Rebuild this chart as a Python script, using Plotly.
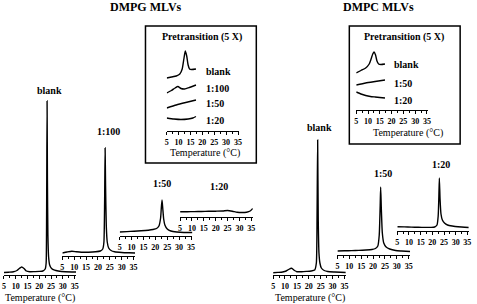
import plotly.graph_objects as go

# ---------------- data (temperature in °C, excess heat capacity in arbitrary units) ----------------
tick_vals = [5, 10, 15, 20, 25, 30, 35]
tick_text = ["5", "10", "15", "20", "25", "30", "35"]

# DMPG MLVs main transition
dmpg_blank_T = [5, 7, 9, 10.5, 11.5, 12.5, 13.5, 14.5, 16, 18, 20, 21.5, 22.5, 22.9, 23.1, 23.3, 23.45, 23.65, 23.95, 24.4, 25.2, 26.5, 28, 31, 35.6]
dmpg_blank_cp = [2.5, 2.8, 3.2, 4.5, 6.5, 8, 6.5, 4, 3.3, 3.4, 3.6, 4, 6, 12, 60, 174, 95, 40, 18, 10, 6.5, 4.8, 4, 3.2, 3]
dmpg_100_T = [5, 7, 9, 11, 13, 16, 19, 21, 22, 22.5, 22.8, 23.0, 23.2, 23.5, 23.9, 24.5, 25.5, 27, 30, 33, 35.6]
dmpg_100_cp = [3, 4, 4.8, 4.2, 3.8, 3.8, 4.2, 5, 7, 14, 55, 108, 70, 30, 14, 8, 5.5, 4.2, 3.5, 3.2, 3]
dmpg_50_T = [5, 8, 11, 14, 17, 19, 20.5, 21.5, 22.2, 22.5, 22.8, 23.1, 23.5, 24, 25, 26.5, 29, 32, 35.6]
dmpg_50_cp = [4, 4.4, 4.8, 5.2, 5.8, 6.5, 7.5, 10, 18, 28, 36, 28, 17, 11, 7, 5, 4, 3.5, 3.5]
dmpg_20_T = [5, 8, 11, 14, 17, 20, 23, 25, 27, 29, 31, 33, 34.5, 35.6]
dmpg_20_cp = [5.2, 5.3, 5.4, 5.5, 5.7, 5.8, 6, 6.5, 5.8, 4.8, 4.5, 4.8, 6, 8.5]

# DMPG pretransition (5 X)
dmpg_pre_blank_T = [5, 7, 9, 10.5, 11.5, 12.2, 12.8, 13.4, 14, 14.6, 15.5, 17.3]
dmpg_pre_blank_cp = [53, 54, 55, 57, 62, 72, 80, 75, 66, 62, 61.5, 62]
dmpg_pre_100_T = [5, 7, 8.5, 9.7, 11, 12.5, 14.5, 17.3]
dmpg_pre_100_cp = [38, 40.5, 43, 44.5, 42.5, 42, 43.5, 46]
dmpg_pre_50_T = [5, 9, 13, 17.3]
dmpg_pre_50_cp = [23, 26, 28.5, 31]
dmpg_pre_20_T = [5, 8, 11, 14, 16, 17.3]
dmpg_pre_20_cp = [13, 12, 11.5, 12, 13, 14.5]

# DMPC MLVs main transition
dmpc_blank_T = [5, 7, 9, 10.5, 11.5, 12.8, 14, 15, 17, 19, 21, 22.5, 23.2, 23.5, 23.75, 24.0, 24.3, 24.7, 25.3, 26.5, 28, 31, 35.6]
dmpc_blank_cp = [2.3, 2.6, 3, 4, 5.5, 6.7, 4.5, 3.3, 3.3, 3.6, 4, 5, 12, 60, 135, 55, 22, 12, 7, 4.5, 3.5, 3, 2.5]
dmpc_50_T = [5, 8, 11, 14, 17, 19.5, 21, 22, 22.6, 23.0, 23.2, 23.5, 23.9, 24.5, 25.5, 27, 29.5, 32, 35.6]
dmpc_50_cp = [4, 4.2, 4.4, 4.6, 5, 5.5, 6.5, 9, 20, 50, 68, 45, 22, 12, 8, 6, 4.5, 4, 3.5]
dmpc_20_T = [5, 8, 11, 14, 17, 19.5, 21, 22, 22.5, 22.8, 23.0, 23.3, 23.7, 24.3, 25.2, 26.5, 28.5, 31, 35.6]
dmpc_20_cp = [4.3, 4.1, 3.9, 3.7, 3.6, 3.6, 4, 6, 15, 35, 53, 32, 17, 11, 8, 6, 5, 4.2, 3.5]

# DMPC pretransition (5 X)
dmpc_pre_blank_T = [5, 7, 9, 10.5, 11.3, 12, 12.6, 13.2, 13.8, 14.5, 15.5, 17.2]
dmpc_pre_blank_cp = [37, 39.5, 42, 46, 51, 56, 58, 55, 49, 46, 45.5, 46]
dmpc_pre_50_T = [5, 9, 13, 17.2]
dmpc_pre_50_cp = [25, 27, 28.5, 30]
dmpc_pre_20_T = [5, 7, 9, 11, 13, 15, 17.2]
dmpc_pre_20_cp = [18, 16, 14.5, 13.5, 13, 12.5, 12]

# ---------------- layout helpers ----------------
W, H = 477, 304
FONT = "Liberation Serif"


def px(x):
    return x / W


def py(y):
    return 1 - y / H


# each panel: curves, x position of the 5 °C tick, axis line y, plot height, x max, px per °C
panels = [
    dict(curves=[(dmpg_blank_T, dmpg_blank_cp)], x5=2, ay=275, h=185, xmax=35.6, s=2.38),
    dict(curves=[(dmpg_100_T, dmpg_100_cp)], x5=61, ay=256, h=120, xmax=35.6, s=2.4),
    dict(curves=[(dmpg_50_T, dmpg_50_cp)], x5=119, ay=236, h=50, xmax=35.6, s=2.4),
    dict(curves=[(dmpg_20_T, dmpg_20_cp)], x5=180, ay=217, h=20, xmax=35.6, s=2.4),
    dict(curves=[(dmpg_pre_blank_T, dmpg_pre_blank_cp), (dmpg_pre_100_T, dmpg_pre_100_cp),
                 (dmpg_pre_50_T, dmpg_pre_50_cp), (dmpg_pre_20_T, dmpg_pre_20_cp)],
         x5=166.5, ay=131, h=85, xmax=35.4, s=2.4),
    dict(curves=[(dmpc_blank_T, dmpc_blank_cp)], x5=274, ay=275, h=145, xmax=35.6, s=2.4),
    dict(curves=[(dmpc_50_T, dmpc_50_cp)], x5=339, ay=255, h=80, xmax=35.6, s=2.4),
    dict(curves=[(dmpc_20_T, dmpc_20_cp)], x5=399.5, ay=231, h=65, xmax=35.6, s=2.36),
    dict(curves=[(dmpc_pre_blank_T, dmpc_pre_blank_cp), (dmpc_pre_50_T, dmpc_pre_50_cp),
                 (dmpc_pre_20_T, dmpc_pre_20_cp)],
         x5=358, ay=110, h=70, xmax=35.4, s=2.38),
]

fig = go.Figure()
layout = {}
for i, p in enumerate(panels, start=1):
    for T, cp in p["curves"]:
        fig.add_trace(go.Scatter(
            x=T, y=cp, xaxis=f"x{i}", yaxis=f"y{i}", mode="lines",
            line=dict(color="black", width=1.4, shape="spline", smoothing=0.5),
            cliponaxis=False, showlegend=False, hoverinfo="skip"))
    xname = "xaxis" if i == 1 else f"xaxis{i}"
    yname = "yaxis" if i == 1 else f"yaxis{i}"
    x0 = p["x5"]
    x1 = x0 + p["s"] * (p["xmax"] - 5)
    layout[xname] = dict(
        domain=[px(x0), px(x1)], range=[5, p["xmax"]], anchor=f"y{i}",
        showline=True, linecolor="black", linewidth=1.2,
        ticks="outside", ticklen=3, tickwidth=1, tickcolor="black",
        tickvals=tick_vals, ticktext=tick_text,
        tickfont=dict(family=FONT, size=8, color="black", weight="bold"),
        minor=dict(ticks="outside", ticklen=1.5, tickwidth=1, tickcolor="black",
                   tickvals=[7.5, 12.5, 17.5, 22.5, 27.5, 32.5]),
        showgrid=False, zeroline=False, fixedrange=True)
    layout[yname] = dict(
        domain=[py(p["ay"]), py(p["ay"] - p["h"])], range=[0, p["h"]],
        anchor=f"x{i}", visible=False, fixedrange=True)


def text(s, x, y, size=10, bold=True, xanchor="center"):
    return dict(text=s, x=px(x), y=py(y), xref="paper", yref="paper",
                xanchor=xanchor, yanchor="middle", showarrow=False,
                font=dict(family=FONT, size=size, color="black",
                          weight="bold" if bold else "normal"))


annotations = [
    text("DMPG MLVs", 146, 7, size=12),
    text("DMPC MLVs", 380, 7, size=12),
    # DMPG main labels
    text("blank", 48, 90),
    text("1:100", 108, 131),
    text("1:50", 162, 183),
    text("1:20", 219, 186),
    text("Temperature (°C)", 38, 298, bold=False),
    # DMPG inset
    text("Pretransition (5 X)", 202, 37, size=10),
    text("blank", 204, 71, xanchor="left"),
    text("1:100", 204, 88, xanchor="left"),
    text("1:50", 204, 104, xanchor="left"),
    text("1:20", 204, 120, xanchor="left"),
    text("Temperature (°C)", 205, 153, bold=False),
    # DMPC main labels
    text("blank", 321, 127),
    text("1:50", 385, 174),
    text("1:20", 444, 164),
    text("Temperature (°C)", 311, 298, bold=False),
    # DMPC inset
    text("Pretransition (5 X)", 406, 37, size=10),
    text("blank", 394, 65, xanchor="left"),
    text("1:50", 394, 83, xanchor="left"),
    text("1:20", 394, 100, xanchor="left"),
    text("Temperature (°C)", 410, 133, bold=False),
]

shapes = [
    dict(type="rect", xref="paper", yref="paper", x0=px(145), x1=px(257), y0=py(163), y1=py(26),
         line=dict(color="black", width=1.5)),
    dict(type="rect", xref="paper", yref="paper", x0=px(351), x1=px(463), y0=py(144), y1=py(26),
         line=dict(color="black", width=1.5)),
]

fig.update_layout(
    width=W, height=H, margin=dict(l=0, r=0, t=0, b=0),
    paper_bgcolor="white", plot_bgcolor="rgba(0,0,0,0)",
    annotations=annotations, shapes=shapes, showlegend=False,
    **layout)

fig.write_html("out.html", config={"displayModeBar": False},
               post_script="document.body.style.margin='0';document.body.style.overflow='hidden';")
